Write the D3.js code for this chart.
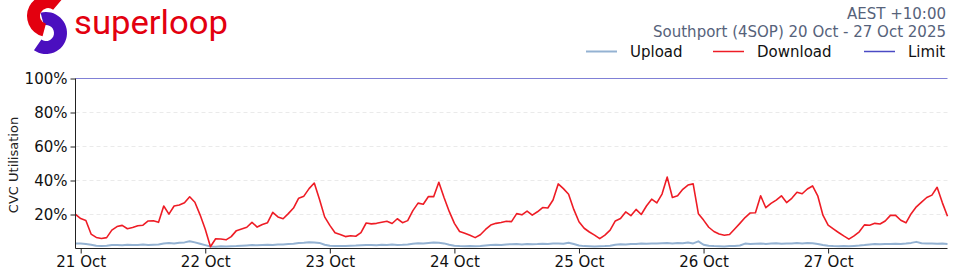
<!DOCTYPE html>
<html><head><meta charset="utf-8">
<script src="https://cdn.jsdelivr.net/npm/d3@7"></script>
<style>html,body{margin:0;padding:0;background:#fff;}svg{display:block;}</style>
</head><body>
<svg id="chart" width="960" height="280"></svg>
<script>
// ---- data (hourly samples, starting 20 Oct 2025 23:00) ----
const startTime = "2025-10-20T23:00:00Z";
const download = [
20.1,17.6,16.5,8.5,6.5,5.9,6.4,10.8,12.9,13.6,
11.6,12.3,13.4,13.7,16.2,16.3,15.4,25,20.2,25,
25.6,26.9,30.4,27.2,19.8,11.3,1.0,5.7,5.6,5.1,
7.0,10.5,11.5,12.5,15.4,12.6,14.1,15.2,21.3,18.6,
17.5,20.5,23.8,29.6,30.8,35.2,38.5,29,18.6,13.6,
9.3,8.2,7.0,7.5,7.2,9.3,15,14.5,14.8,15.4,
16,14.7,17.5,15.2,16.4,22.3,26.7,26,30.6,30.5,
39,30,21.8,14.8,10,9,7.8,6.4,8.1,11.2,
13.8,14.8,15.3,16,15.8,20.5,19.8,22,19.6,21.6,
24.1,23.8,28.5,38,35.2,31.9,23,15.7,11.9,9.7,
7.9,5.8,7.9,10.8,16.2,17.6,21.5,19.3,23,20,
25,29,26.8,32,42,30,31,34.8,37.3,38,
20.5,16.7,12.5,10,8.5,7.8,8.2,11.5,14.8,18.2,
20.9,21,31,24,26.5,28.5,31,27,29.5,33.1,
32.2,35,36.8,31,19.6,13.7,11.5,9.4,7.4,5.5,
7.4,9.8,13.9,13.7,14.8,14.4,16.2,19.5,19.5,16.6,
15.1,20.5,24.5,27.3,30,31.4,36,27,19
];
const upload = [
3.0,2.9,2.6,2.2,
1.6,1.4,1.6,
2.0,2.1,1.9,2.2,2.0,2.1,2.3,2.0,2.2,2.4,
3.0,3.2,2.9,3.4,3.6,4.3,
3.6,2.8,
2.0,
1.2,1.1,1.3,1.2,1.3,1.4,1.6,1.8,
2.0,1.9,2.1,2.2,2.0,2.3,2.4,2.6,2.8,
3.2,3.4,3.7,3.6,3.3,
2.2,1.6,1.4,1.5,1.4,1.6,1.7,1.9,
2.0,2.1,1.9,2.2,2.0,2.3,2.1,2.2,2.4,
2.8,3.1,3.0,3.3,3.6,3.4,3.0,
2.2,1.6,1.4,1.3,1.4,1.3,1.5,1.8,
2.0,2.2,2.1,2.4,2.5,2.6,2.4,2.7,2.5,2.6,2.8,2.7,
2.9,3.0,2.8,3.4,2.6,
1.8,1.4,1.3,1.2,1.3,1.4,1.6,
2.2,2.5,2.4,2.7,2.6,2.9,2.8,3.0,2.9,3.1,
3.2,2.9,3.3,3.1,3.5,3.0,4.2,
2.2,1.6,1.4,1.3,1.2,1.4,1.5,1.8,2.9,
2.6,2.8,3.0,2.7,2.9,3.1,2.8,3.0,2.9,3.2,3.0,3.3,3.1,
2.6,2.0,
1.6,1.4,1.3,1.4,1.3,1.5,1.7,2.0,
2.4,2.6,2.5,2.7,2.6,2.8,2.7,2.9,
3.3,3.9,3.1,
2.9,3.0,2.8,2.9,2.7
];
const limitValue = 100;
const xTickDates = ["2025-10-21","2025-10-22","2025-10-23","2025-10-24","2025-10-25","2025-10-26","2025-10-27"];
const xTickLabels = ["21 Oct","22 Oct","23 Oct","24 Oct","25 Oct","26 Oct","27 Oct"];
const yTicks = [20,40,60,80,100];
const yTickLabels = ["20%","40%","60%","80%","100%"];
const legendItems = ["Upload","Download","Limit"];
const headerLines = ["AEST +10:00","Southport (4SOP) 20 Oct - 27 Oct 2025"];
const brandName = "superloop";
const yAxisTitle = "CVC Utilisation";

// ---- drawing ----
const svg = d3.select("#chart");
const font = "'DejaVu Sans', sans-serif";
const colors = {upload:"#94b2d2", download:"#ee1c25", limit:"#4a4ac4"};

const t0 = new Date(startTime);
const times = download.map((d,i)=> d3.utcHour.offset(t0, i));
const x = d3.scaleTime().domain([times[0], times[times.length-1]]).range([75.5, 947.5]);
const y = d3.scaleLinear().domain([0,100]).range([248.5, 78.5]);

// grid
svg.append("g").selectAll("line").data(yTicks.filter(v=>v<100)).join("line")
  .attr("x1",75.5).attr("x2",947.5)
  .attr("y1",d=>y(d)).attr("y2",d=>y(d))
  .attr("stroke","#e4e4e4").attr("stroke-width",0.8).attr("stroke-dasharray","4,3");

const line = d3.line().x((d,i)=>x(times[i])).y(d=>y(d));

svg.append("path").datum(upload).attr("d",line)
  .attr("fill","none").attr("stroke",colors.upload).attr("stroke-width",2).attr("stroke-linejoin","round");
svg.append("path").datum(download).attr("d",line)
  .attr("fill","none").attr("stroke",colors.download).attr("stroke-width",1.6).attr("stroke-linejoin","round");
svg.append("line").attr("x1",75.5).attr("x2",947.5).attr("y1",y(limitValue)).attr("y2",y(limitValue))
  .attr("stroke",colors.limit).attr("stroke-opacity",0.7).attr("stroke-width",1);

// axes
const xAxis = d3.axisBottom(x)
  .tickValues(xTickDates.map(d=>new Date(d+"T00:00:00Z")))
  .tickFormat((d,i)=>xTickLabels[i]).tickSize(5).tickPadding(3);
const gx = svg.append("g").attr("transform","translate(0,248.5)").call(xAxis);
gx.select(".domain").attr("d","M75.5,0H947.5").attr("stroke","#222");
gx.selectAll("text").attr("font-family",font).attr("font-size",15).attr("fill","#111");
gx.selectAll(".tick line").attr("stroke","#222");

const yAxis = d3.axisLeft(y).tickValues(yTicks).tickFormat((d,i)=>yTickLabels[i]).tickSize(5).tickPadding(3);
const gy = svg.append("g").attr("transform","translate(75.5,0)").call(yAxis);
gy.select(".domain").attr("d","M0,78.5V248.5").attr("stroke","#222");
gy.selectAll("text").attr("font-family",font).attr("font-size",15).attr("fill","#111");
gy.selectAll(".tick line").attr("stroke","#222");

svg.append("text").attr("transform","translate(18,165) rotate(-90)")
  .attr("text-anchor","middle").attr("font-family",font).attr("font-size",13).attr("fill","#222")
  .text(yAxisTitle);

// header
svg.append("g").selectAll("text").data(headerLines).join("text")
  .attr("x",946).attr("y",(d,i)=>[18.5,37][i]).attr("text-anchor","end")
  .attr("font-family",font).attr("font-size",15).attr("fill","#56627a").text(d=>d);

// legend
const legX = [586, 713, 864];
const legColors = [colors.upload, colors.download, colors.limit];
const lg = svg.append("g");
legendItems.forEach((name,i)=>{
  lg.append("line").attr("x1",legX[i]).attr("x2",legX[i]+31).attr("y1",51.5).attr("y2",51.5)
    .attr("stroke",legColors[i]).attr("stroke-width",i===0?2:1.5);
  lg.append("text").attr("x",legX[i]+44).attr("y",57).attr("font-family",font).attr("font-size",15)
    .attr("fill","#111").text(name);
});

// logo
const logo = svg.append("g");
const arcRed = d3.arc().innerRadius(8).outerRadius(21).startAngle(-165*Math.PI/180).endAngle(40*Math.PI/180);
const arcPurple = d3.arc().innerRadius(8).outerRadius(21).startAngle(-15*Math.PI/180).endAngle(215*Math.PI/180);
logo.append("path").attr("d",arcPurple()).attr("transform","translate(46,33)").attr("fill","#4b0fbf");
logo.append("path").attr("d",arcRed()).attr("transform","translate(48,16)").attr("fill","#e3000f");
logo.append("text").attr("x",74).attr("y",34).attr("font-family","Roboto, sans-serif")
  .attr("font-size",34).attr("font-weight",400).attr("fill","#e3000f")
  .attr("textLength",154).attr("lengthAdjust","spacingAndGlyphs").text(brandName);
</script>
</body></html>
